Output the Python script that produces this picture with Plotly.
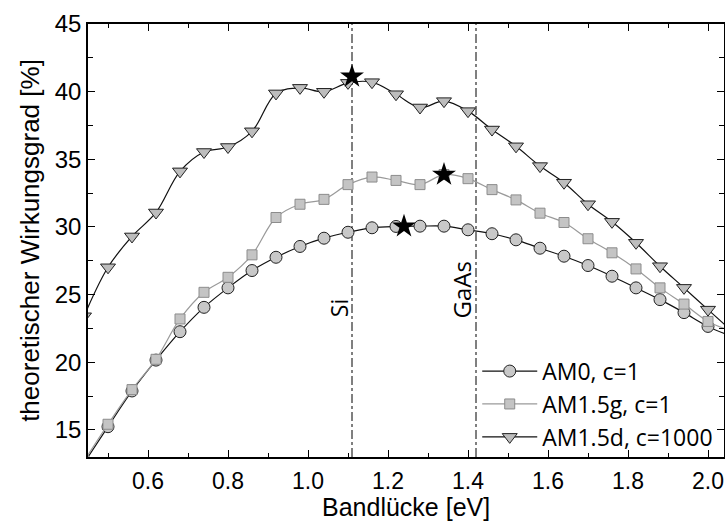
import plotly.graph_objects as go

# ---- data ----
bandgap_eV = [0.44, 0.50, 0.56, 0.62, 0.68, 0.74, 0.80, 0.86, 0.92, 0.98, 1.04, 1.10,
              1.16, 1.22, 1.28, 1.34, 1.40, 1.46, 1.52, 1.58, 1.64, 1.70, 1.76, 1.82,
              1.88, 1.94, 2.00, 2.06]
am0_c1 = [12.55, 15.24, 17.88, 20.16, 22.26, 24.06, 25.50, 26.78, 27.76, 28.56, 29.17, 29.61,
          29.94, 30.04, 30.06, 30.06, 29.79, 29.50, 29.05, 28.43, 27.84, 27.15, 26.36, 25.50,
          24.63, 23.67, 22.65, 21.90]
am15g_c1 = [12.70, 15.42, 17.98, 20.22, 23.20, 25.17, 26.28, 27.94, 30.70, 31.68, 32.04, 33.13,
            33.69, 33.44, 33.13, 33.87, 33.57, 32.76, 32.00, 31.02, 30.33, 29.13, 28.09, 26.90,
            25.50, 24.30, 23.02, 22.30]
am15d_c1000 = [23.40, 27.02, 29.30, 31.07, 34.11, 35.54, 35.91, 37.07, 39.87, 40.28, 39.99, 40.65,
               40.70, 39.81, 38.83, 39.30, 38.56, 37.20, 35.96, 34.50, 33.27, 31.68, 30.38, 28.83,
               27.10, 25.50, 23.89, 22.30]
series_names = ["AM0, c=1", "AM1.5g, c=1", "AM1.5d, c=1000"]

# maxima (stars)
max_x = [1.24, 1.34, 1.11]
max_y = [30.05, 33.87, 41.12]

# reference materials
materials = ["Si", "GaAs"]
material_gaps = [1.11, 1.42]

x_ticks = [0.6, 0.8, 1.0, 1.2, 1.4, 1.6, 1.8, 2.0]
y_ticks = [15, 20, 25, 30, 35, 40, 45]
x_title = "Bandlücke [eV]"
y_title = "theoretischer Wirkungsgrad [%]"

# ---- figure ----
AX_FONT = "Liberation Sans, Arial, sans-serif"
LEG_FONT = "Open Sans, sans-serif"

fig = go.Figure()

fig.add_trace(go.Scatter(
    x=bandgap_eV, y=am0_c1, name=series_names[0], mode="lines+markers",
    line=dict(color="#111111", width=1.2, shape="spline", smoothing=1),
    marker=dict(symbol="circle", size=12, color="#c8c8c8",
                line=dict(color="#222222", width=1)),
))
fig.add_trace(go.Scatter(
    x=bandgap_eV, y=am15g_c1, name=series_names[1], mode="lines+markers",
    line=dict(color="#9a9a9a", width=1.2, shape="spline", smoothing=1),
    marker=dict(symbol="square", size=10, color="#c4c4c4",
                line=dict(color="#8c8c8c", width=1)),
))
fig.add_trace(go.Scatter(
    x=bandgap_eV, y=am15d_c1000, name=series_names[2], mode="lines+markers",
    line=dict(color="#111111", width=1.2, shape="spline", smoothing=1),
    marker=dict(symbol="triangle-down", size=13, color="#bdbdbd",
                line=dict(color="#222222", width=1)),
))
fig.add_trace(go.Scatter(
    x=max_x, y=max_y, mode="markers", showlegend=False,
    marker=dict(symbol="star", size=18, color="#000000",
                line=dict(color="#000000", width=0)),
))

for name, gap in zip(materials, material_gaps):
    fig.add_shape(type="line", xref="x", yref="paper", x0=gap, x1=gap, y0=0, y1=1,
                  line=dict(color="#000000", width=1, dash="dashdot"), layer="below")

fig.add_annotation(x=material_gaps[0], y=24.0, xref="x", yref="y", text=materials[0],
                   textangle=-90, showarrow=False, xshift=-13, xanchor="center", yanchor="middle",
                   font=dict(family=LEG_FONT, size=23, color="#000000"))
fig.add_annotation(x=material_gaps[1], y=25.3, xref="x", yref="y", text=materials[1],
                   textangle=-90, showarrow=False, xshift=-14, xanchor="center", yanchor="middle",
                   font=dict(family=LEG_FONT, size=24, color="#000000"))

# x-axis title as annotation (fixed position below tick labels)
fig.add_annotation(x=0.5, y=0, xref="paper", yref="paper", text=x_title, showarrow=False,
                   xanchor="center", yanchor="top", yshift=-34,
                   font=dict(family=AX_FONT, size=25, color="#000000"))

fig.update_layout(
    width=725, height=521,
    margin=dict(l=88, r=1, t=24, b=64, autoexpand=False),
    paper_bgcolor="white", plot_bgcolor="white",
    font=dict(family=AX_FONT, color="#000000"),
    showlegend=True,
    legend=dict(x=0.612, y=0.248, xanchor="left", yanchor="top",
                bgcolor="rgba(0,0,0,0)", borderwidth=0, itemwidth=55,
                font=dict(family=LEG_FONT, size=23, color="#000000")),
)

fig.update_xaxes(
    range=[0.45, 2.04], tickvals=x_ticks, ticktext=[f"{v:.1f}" for v in x_ticks],
    showgrid=False, zeroline=False, showline=True, linecolor="#000000", linewidth=1.5,
    mirror="ticks", ticks="inside", ticklen=7, tickwidth=1.3, tickcolor="#000000",
    minor=dict(ticks="inside", ticklen=4, dtick=0.1, tick0=0, tickcolor="#000000", tickwidth=1.3),
    tickfont=dict(size=23, family=AX_FONT), automargin=False, ticklabelstandoff=3,
)
fig.update_yaxes(
    range=[13.0, 45.0], tickvals=y_ticks,
    showgrid=False, zeroline=False, showline=True, linecolor="#000000", linewidth=1.5,
    mirror="ticks", ticks="inside", ticklen=7, tickwidth=1.3, tickcolor="#000000",
    minor=dict(ticks="inside", ticklen=5, dtick=2.5, tick0=0, tickcolor="#000000", tickwidth=1.3),
    tickfont=dict(size=24, family=AX_FONT), automargin=False,
    title=dict(text=y_title, font=dict(size=26, family=AX_FONT), standoff=8),
)

fig.write_html("out.html", config={"displayModeBar": False},
               post_script="document.body.style.margin='0px';")
